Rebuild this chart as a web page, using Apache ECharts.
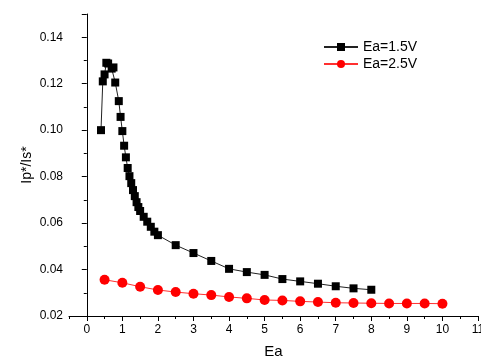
<!DOCTYPE html>
<html>
<head>
<meta charset="utf-8">
<script src="https://cdn.jsdelivr.net/npm/echarts@6/dist/echarts.min.js"></script>
<style>
html,body{margin:0;padding:0;background:#fff;}
#chart{width:481px;height:361px;}
</style>
</head>
<body>
<div id="chart"></div>
<script>
var seriesNames = ['Ea=1.5V', 'Ea=2.5V'];
var xA = [0.4, 0.45, 0.5, 0.55, 0.6, 0.7, 0.75, 0.8, 0.9, 0.95, 1.0, 1.05, 1.1, 1.15,
          1.2, 1.25, 1.3, 1.35, 1.4, 1.45, 1.5, 1.6, 1.7, 1.8, 1.9, 2.0,
          2.5, 3.0, 3.5, 4.0, 4.5, 5.0, 5.5, 6.0, 6.5, 7.0, 7.5, 8.0];
var yA = [0.100, 0.121, 0.124, 0.129, 0.1287, 0.1265, 0.127, 0.1205, 0.1125, 0.1057, 0.0996, 0.0933, 0.0883, 0.0837,
          0.0802, 0.0772, 0.0742, 0.0716, 0.0690, 0.0669, 0.0652, 0.0627, 0.0606, 0.0584, 0.0563, 0.0548,
          0.0505, 0.0471, 0.0437, 0.0403, 0.0389, 0.0377, 0.0359, 0.0349, 0.0339, 0.0328, 0.0319, 0.0313];
var xB = [0.5, 1.0, 1.5, 2.0, 2.5, 3.0, 3.5, 4.0, 4.5, 5.0, 5.5, 6.0, 6.5, 7.0, 7.5, 8.0, 8.5, 9.0, 9.5, 10.0];
var yB = [0.0356, 0.0343, 0.0326, 0.0312, 0.0303, 0.0296, 0.0290, 0.0282, 0.0276, 0.0269, 0.0267, 0.0263, 0.0260, 0.0257, 0.0256, 0.0255, 0.0254, 0.0254, 0.0254, 0.0253];
var xTicks = [0, 1, 2, 3, 4, 5, 6, 7, 8, 9, 10, 11];
var xMinorTicks = [-0.5, 0.5, 1.5, 2.5, 3.5, 4.5, 5.5, 6.5, 7.5, 8.5, 9.5, 10.5];

function pairs(xs, ys) { return xs.map(function (x, i) { return [x, ys[i]]; }); }

var font = 'Liberation Sans, Arial, sans-serif';
var chart = echarts.init(document.getElementById('chart'), null, {renderer: 'canvas'});
chart.setOption({
  backgroundColor: '#fff',
  animation: false,
  textStyle: {fontFamily: font},
  grid: {left: 69, right: 3, top: 14, bottom: 45, containLabel: false, outerBoundsMode: 'none'},
  legend: {
    data: seriesNames,
    orient: 'vertical',
    left: 318, top: 35,
    itemWidth: 34, itemHeight: 10, itemGap: 3,
    textStyle: {fontFamily: font, fontSize: 14, color: '#000', padding: [0, 0, 0, 0]},
  },
  xAxis: [{
    type: 'value', min: -0.5, max: 11,
    name: 'Ea', nameLocation: 'middle', nameGap: 28, nameMoveOverlap: false,
    nameTextStyle: {fontFamily: font, fontSize: 15, color: '#000'},
    axisLine: {show: true, lineStyle: {color: '#000', width: 1}},
    axisTick: {show: true, inside: false, length: 5, customValues: xTicks, lineStyle: {color: '#000'}},
    axisLabel: {customValues: xTicks, fontFamily: font, fontSize: 12, color: '#000', margin: 8, showMaxLabel: true, hideOverlap: false},
    splitLine: {show: false}
  }, {
    type: 'value', min: -0.5, max: 11, position: 'bottom',
    axisLine: {show: false},
    axisTick: {show: true, length: 3, customValues: xMinorTicks, lineStyle: {color: '#000'}},
    axisLabel: {show: false},
    splitLine: {show: false}
  }],
  yAxis: {
    type: 'value', min: 0.02, max: 0.15, interval: 0.02,
    name: 'Ip*/Is*', nameLocation: 'middle', nameGap: 35, nameRotate: 90, nameMoveOverlap: false,
    nameTextStyle: {fontFamily: font, fontSize: 14, color: '#000'},
    axisLine: {show: true, lineStyle: {color: '#000', width: 1}},
    axisTick: {show: true, length: 5, lineStyle: {color: '#000'}},
    minorTick: {show: true, splitNumber: 2, length: 3, lineStyle: {color: '#000'}},
    axisLabel: {fontFamily: font, fontSize: 12, color: '#000', margin: 6, showMaxLabel: false,
      formatter: function (v) { return v > 0.145 ? '' : v.toFixed(2); }},
    splitLine: {show: false}
  },
  series: [{
    name: seriesNames[0], type: 'line', data: pairs(xA, yA),
    symbol: 'rect', symbolSize: 8,
    itemStyle: {color: '#000'},
    lineStyle: {color: '#222', width: 1}
  }, {
    name: seriesNames[1], type: 'line', data: pairs(xB, yB),
    symbol: 'circle', symbolSize: 10,
    itemStyle: {color: '#ff0000'},
    lineStyle: {color: '#ff3030', width: 1}
  }]
});
</script>
</body>
</html>
